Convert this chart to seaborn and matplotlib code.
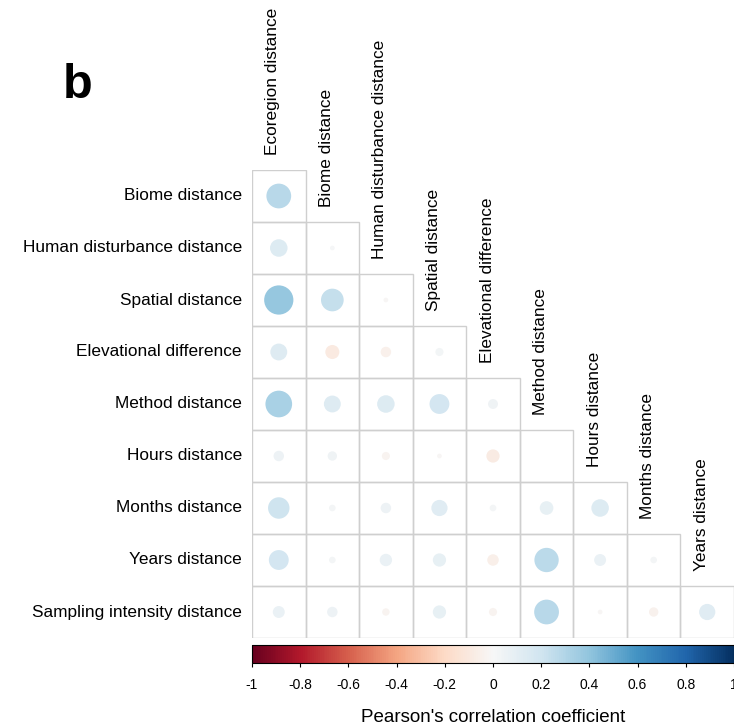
import numpy as np
import pandas as pd
import seaborn as sns
import matplotlib
matplotlib.use("Agg")
import matplotlib.pyplot as plt
from matplotlib.patches import Rectangle
from matplotlib.cm import ScalarMappable
from matplotlib.colors import Normalize

# Variables (rows are variables 2..10, columns are variables 1..9)
row_labels = ["Biome distance", "Human disturbance distance", "Spatial distance",
              "Elevational difference", "Method distance", "Hours distance",
              "Months distance", "Years distance", "Sampling intensity distance"]
col_labels = ["Ecoregion distance", "Biome distance", "Human disturbance distance",
              "Spatial distance", "Elevational difference", "Method distance",
              "Hours distance", "Months distance", "Years distance"]

# Lower-triangle Pearson correlations, one list per row
r_biome     = [0.28]
r_human     = [0.14, 0.01]
r_spatial   = [0.39, 0.235, -0.01]
r_elev      = [0.13, -0.09, -0.05, 0.03]
r_method    = [0.325, 0.13, 0.14, 0.18, 0.045]
r_hours     = [0.05, 0.04, -0.03, -0.01, -0.08, 0.0]
r_months    = [0.21, 0.02, 0.05, 0.12, 0.02, 0.085, 0.14]
r_years     = [0.18, 0.02, 0.07, 0.08, -0.06, 0.27, 0.065, 0.02]
r_sampling  = [0.065, 0.05, -0.025, 0.08, -0.03, 0.28, -0.01, -0.04, 0.12]

rows_values = [r_biome, r_human, r_spatial, r_elev, r_method,
               r_hours, r_months, r_years, r_sampling]

records = []
for i, vals in enumerate(rows_values):
    for j, v in enumerate(vals):
        records.append({"row": i, "col": j, "r": v, "absr": abs(v)})
df = pd.DataFrame(records)

plt.rcParams["font.family"] = ["Liberation Sans", "DejaVu Sans"]

W, H = 734, 727
fig = plt.figure(figsize=(W / 100, H / 100), dpi=100)

# Grid area in pixels
gx0, gx1, gy0, gy1 = 252, 734, 170, 638
ax = fig.add_axes([gx0 / W, (H - gy1) / H, (gx1 - gx0) / W, (gy1 - gy0) / H])
ax.set_xlim(-0.5, 8.5)
ax.set_ylim(8.5, -0.5)
ax.axis("off")

# Cell outlines of the lower triangle
for i in range(9):
    for j in range(i + 1):
        ax.add_patch(Rectangle((j - 0.5, i - 0.5), 1, 1, facecolor="none",
                               edgecolor="#CFCFCF", lw=1.0, zorder=1))

# Circles: area proportional to |r|, full cell (x0.9) at |r| = 1
cell_px = (gy1 - gy0) / 9
smax = (0.9 * cell_px * 72 / 100) ** 2
sns.scatterplot(data=df, x="col", y="row", hue="r", palette="RdBu",
                hue_norm=(-1, 1), size="absr", sizes=(0, smax),
                size_norm=(0, 1), linewidth=0, legend=False, ax=ax, zorder=2)
ax.set_xlim(-0.5, 8.5)
ax.set_ylim(8.5, -0.5)
ax.axis("off")

# Row labels
for i, lab in enumerate(row_labels):
    ax.annotate(lab, xy=(-0.5, i), xytext=(-10, 0), textcoords="offset pixels",
                ha="right", va="center", fontsize=12.4)

# Column labels placed above the first cell of each column
for j, lab in enumerate(col_labels):
    ax.annotate(lab, xy=(j, j - 0.5), xytext=(-6, 15), textcoords="offset pixels",
                ha="center", va="bottom", rotation=90, fontsize=12.4)

# Colour bar
cax = fig.add_axes([gx0 / W, (H - 663) / H, (gx1 - gx0) / W, 18 / H])
sm = ScalarMappable(norm=Normalize(-1, 1), cmap="RdBu")
cb = fig.colorbar(sm, cax=cax, orientation="horizontal")
ticks = np.round(np.arange(-1, 1.01, 0.2), 1)
cb.set_ticks(ticks)
cb.set_ticklabels(["-1", "-0.8", "-0.6", "-0.4", "-0.2", "0", "0.2", "0.4",
                   "0.6", "0.8", "1"])
cb.outline.set_linewidth(0.8)
cax.tick_params(labelsize=10, length=3, width=0.8, pad=8)
cb.set_label("Pearson's correlation coefficient", fontsize=13.5, labelpad=12)

fig.text(63 / W, (H - 98) / H, "b", fontsize=35, fontweight="bold",
         ha="left", va="baseline")

fig.savefig("out.png", dpi=100)
